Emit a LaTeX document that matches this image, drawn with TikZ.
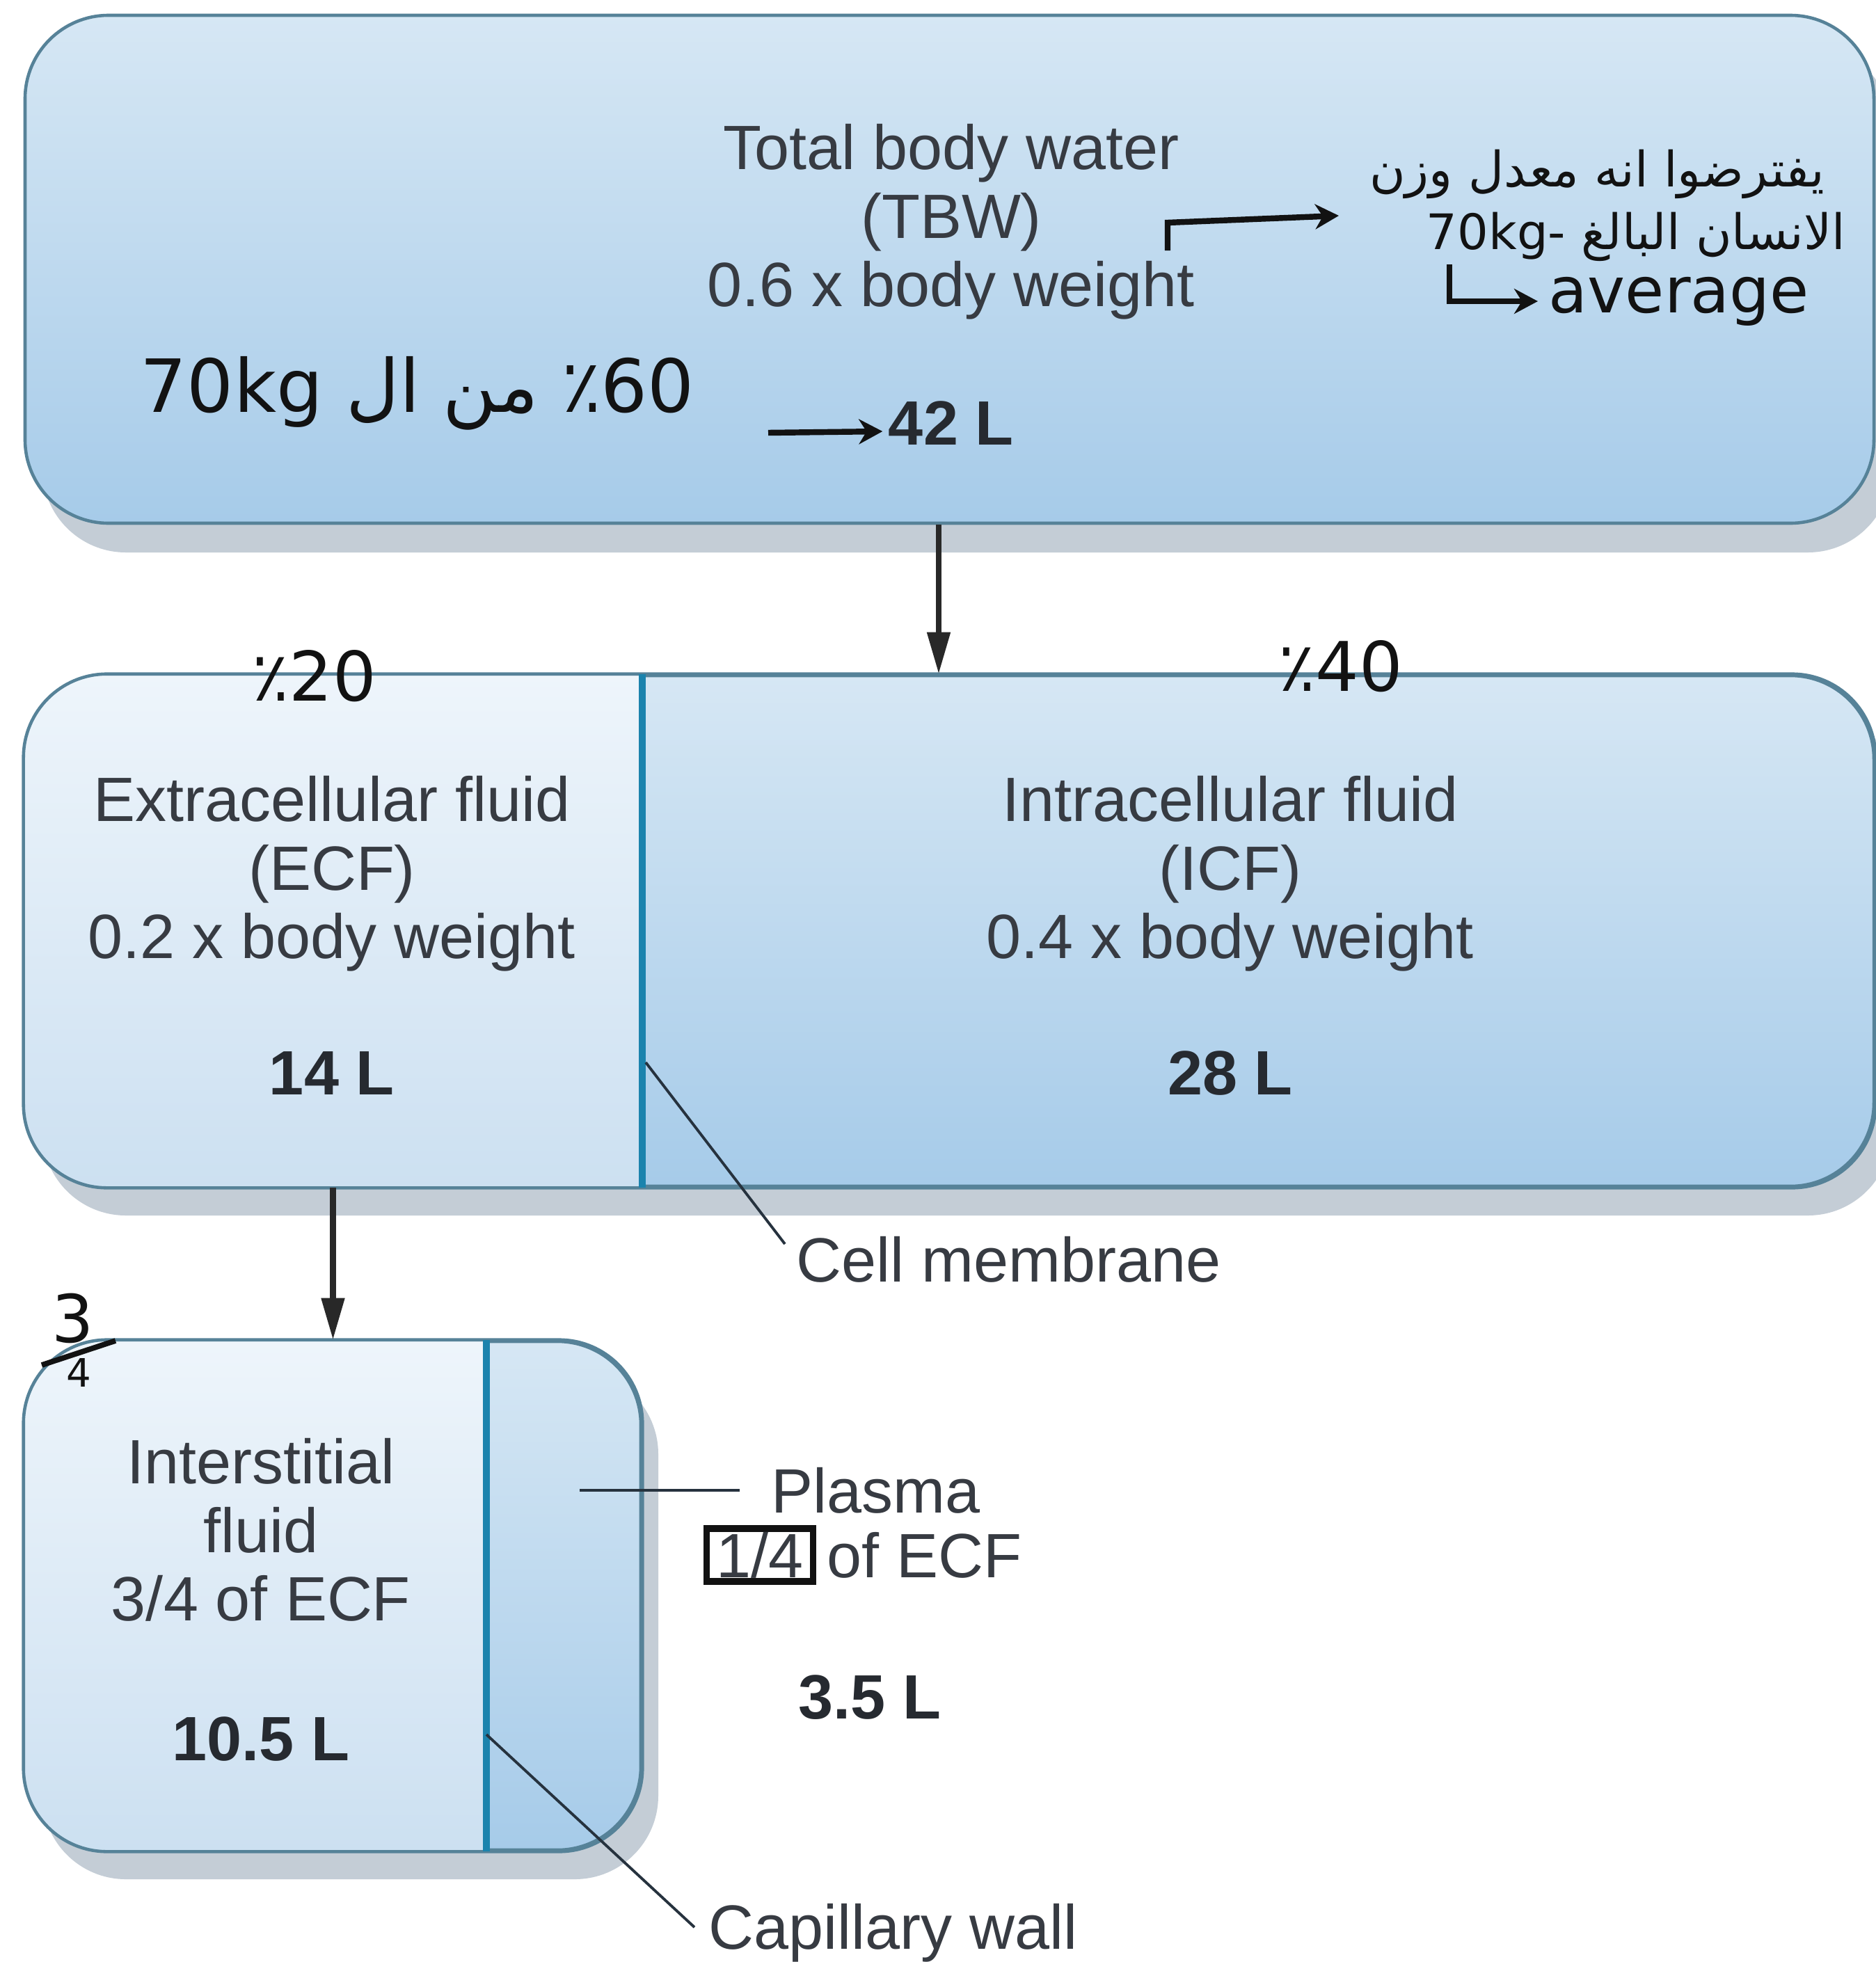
\documentclass[tikz,border=0pt]{standalone}
\usepackage{fontspec}
\setmainfont{Liberation Sans}
\newfontfamily\arabicfont[Script=Arabic]{DejaVu Sans}
\newfontfamily\handfont{DejaVu Sans}
\TeXXeTstate=1
\usetikzlibrary{arrows.meta,shadows}
\definecolor{boxline}{RGB}{86,130,152}
\definecolor{wallblue}{RGB}{27,131,173}
\definecolor{labeltext}{RGB}{55,59,66}
\definecolor{voltext}{RGB}{38,42,48}
\definecolor{paletop}{RGB}{238,245,251}
\definecolor{palebottom}{RGB}{204,224,241}
\definecolor{bluetop}{RGB}{214,231,244}
\definecolor{bluebottom}{RGB}{166,203,233}
\definecolor{shadowgray}{RGB}{196,205,214}
\definecolor{ink}{RGB}{18,18,18}
\definecolor{pointer}{RGB}{38,50,62}
\definecolor{flowarrow}{RGB}{40,40,40}
\newcommand{\labelfont}{\fontsize{25.6}{28}\selectfont}
\newcommand{\handsize}[1]{\fontsize{#1}{#1}\selectfont}
% pale left part of a split compartment: #1 node, #2 wall coordinate
\newcommand{\paleside}[2]{
  \begin{scope}
    \clip[rounded corners=1.2cm] (#1.south west) rectangle (#1.north east);
    \shade[top color=paletop, bottom color=palebottom] (#1.south west) rectangle (#2 |- #1.north);
  \end{scope}
  \draw[boxline, line width=1.3pt, rounded corners=1.2cm] (#1.south west) rectangle (#1.north east);
  \draw[wall] (#2 |- #1.north) -- (#2 |- #1.south);
}
\tikzset{
  fluidbox/.style={draw=boxline, line width=1.3pt, rounded corners=1.2cm,
    top color=bluetop, bottom color=bluebottom,
    drop shadow={shadow xshift=0.25cm, shadow yshift=-0.42cm, fill=shadowgray, opacity=1}},
  wall/.style={draw=wallblue, line width=2.6pt},
  fluidtext/.style={text=labeltext, font=\labelfont, align=center, inner sep=0pt},
  volume/.style={text=voltext, font=\labelfont\bfseries, inner sep=0pt},
  pointerline/.style={draw=pointer, line width=1.1pt},
  flow/.style={draw=flowarrow, line width=2.3pt, -{Triangle[length=0.6cm,width=0.32cm]}},
  handarrow/.style={draw=ink, line width=2.4pt, -{Stealth[length=0.34cm,width=0.36cm]}},
  handnote/.style={text=ink, inner sep=0pt},
}
\begin{document}
\begin{tikzpicture}
\fill[white] (0,0) rectangle (26.95,-28.20);
\useasboundingbox (0,0) rectangle (26.95,-28.20);
% compartments
\node[fluidbox, minimum width=26.57cm, minimum height=7.30cm] (tbw) at (13.645,-3.87) {};
\node[fluidbox, minimum width=26.57cm, minimum height=7.34cm] (fluids) at (13.645,-13.38) {};
\node[fluidbox, minimum width=8.85cm, minimum height=7.31cm] (isf) at (4.785,-22.935) {};
% membranes
\coordinate (cellwall) at (9.23,-13.38);
\coordinate (capwallx) at (6.99,-22.9);
\paleside{fluids}{cellwall}
\paleside{isf}{capwallx}
% flow arrows
\coordinate (split) at ([xshift=-0.155cm]tbw.south);
\draw[flow] (split) -- (split |- fluids.north);
\draw[flow] (isf.north |- fluids.south) -- (isf.north);
% labels
\node[fluidtext] (tbwtext) at (13.67,-3.19) {Total body water\\(TBW)\\0.6 x body weight};
\node[volume] (tbwvol) at (13.67,-6.08) {42 L};
\node[fluidtext] (ecftext) at (4.77,-12.56) {Extracellular fluid\\(ECF)\\0.2 x body weight};
\node[volume] (ecfvol) at (4.77,-15.43) {14 L};
\node[fluidtext] (icftext) at (17.68,-12.56) {Intracellular fluid\\(ICF)\\0.4 x body weight};
\node[volume] (icfvol) at (17.68,-15.43) {28 L};
\node[fluidtext] (isftext) at (3.75,-21.99) {Interstitial\\fluid\\3/4 of ECF};
\node[volume] (isfvol) at (3.75,-24.99) {10.5 L};
\node[fluidtext, anchor=west] (plasmatext) at (11.08,-21.42) {Plasma};
\node[fluidtext, draw=ink, line width=2.6pt, inner xsep=0.14cm, inner ysep=0.05cm] (plasmafrac) at (10.92,-22.35) {1/4};
\node[fluidtext, anchor=west] (plasmaof) at (11.88,-22.35) {of ECF};
\node[volume] (plasmavol) at (12.50,-24.40) {3.5 L};
\node[fluidtext, anchor=west] (cellmem) at (11.44,-18.10) {Cell membrane};
\node[fluidtext, anchor=west] (capwall) at (10.18,-27.78) {Capillary wall};
% pointers
\coordinate (memtip) at (9.28,-15.27);
\coordinate (captip) at (6.99,-24.93);
\coordinate (plasmatip) at (8.33,-21.42);
\draw[pointerline] (memtip) -- ([xshift=-0.16cm,yshift=0.22cm]cellmem.west);
\draw[pointerline] (captip) -- ([xshift=-0.2cm,yshift=0.08cm]capwall.west);
\draw[pointerline] (plasmatip) -- ([xshift=-0.45cm]plasmatext.west);
% handwritten notes
\node[handnote, font=\arabicfont\handsize{30}] (kgnote) at (6.0,-5.65) {\beginR\beginL ٪60\endL{} من ال \beginL 70kg\endL\endR};
\node[handnote, font=\arabicfont\handsize{20}] (note1) at (22.95,-2.50) {\beginR يفترضوا انه معدل وزن\endR};
\node[handnote, font=\arabicfont\handsize{20}] (note2) at (23.51,-3.40) {\beginR الانسان البالغ -\beginL 70kg\endL\endR};
\node[handnote, font=\handfont\handsize{26}, anchor=west] (avg) at (22.25,-4.33) {average};
\node[handnote, font=\handfont\handsize{28}] (ecfshare) at (4.52,-9.72) {٪20};
\node[handnote, font=\handfont\handsize{28}] (icfshare) at (19.27,-9.58) {٪40};
\node[handnote, font=\handfont\handsize{27}] (isfnum) at (1.05,-18.95) {3};
\node[handnote, font=\handfont\handsize{16}] (isfden) at (1.13,-19.73) {4};
\draw[draw=ink, line width=2.2pt] (0.60,-19.62) -- (1.66,-19.27);
\coordinate (volhint) at (11.04,-6.22);
\draw[handarrow] (volhint) -- ([xshift=-0.08cm,yshift=-0.12cm]tbwvol.west);
\coordinate (notehook) at (16.78,-3.60);
\coordinate (notetip) at (19.24,-3.10);
\draw[handarrow] (notehook) -- ++(0,0.40) -- (notetip);
\coordinate (avghook) at (20.83,-3.80);
\draw[handarrow] (avghook) |- ([xshift=-0.15cm]avg.west);
\end{tikzpicture}
\end{document}
